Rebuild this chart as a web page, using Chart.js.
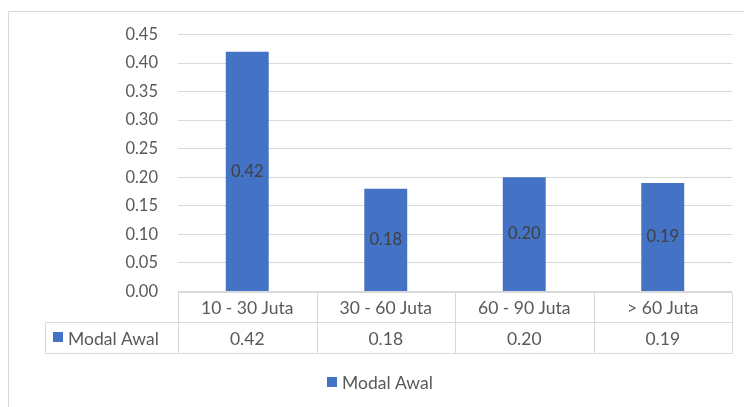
<!DOCTYPE html>
<html>
<head>
<meta charset="utf-8">
<script src="https://cdn.jsdelivr.net/npm/chart.js@4"></script>
<style>
  html, body { margin: 0; padding: 0; background: #fff; }
  #wrap { position: relative; width: 744px; height: 407px; }
</style>
</head>
<body>
<div id="wrap"><canvas id="chart" width="744" height="407"></canvas></div>
<script>
// Share of respondents by starting capital bracket
const categories = ['10 - 30 Juta', '30 - 60 Juta', '60 - 90 Juta', '> 60 Juta'];
const seriesName = 'Modal Awal';
const modalAwal = [0.42, 0.18, 0.20, 0.19];
const yTicks = [0, 0.05, 0.10, 0.15, 0.20, 0.25, 0.30, 0.35, 0.40, 0.45];

const FONT = 'Lato, "Open Sans", sans-serif';
const BAR = '#4472C4';
const GRID = '#d9d9d9';
const LABEL = '#404040';
const TEXT = '#595959';

// Value labels in the middle of each bar
const barLabels = {
  id: 'barLabels',
  afterDatasetsDraw(chart) {
    const ctx = chart.ctx;
    const meta = chart.getDatasetMeta(0);
    ctx.save();
    ctx.font = '16.5px ' + FONT;
    ctx.fillStyle = LABEL;
    ctx.textAlign = 'center';
    ctx.textBaseline = 'middle';
    meta.data.forEach((bar, i) => {
      const v = chart.data.datasets[0].data[i];
      ctx.fillText(v.toFixed(2), bar.x, (bar.y + bar.base) / 2);
    });
    ctx.restore();
  }
};

// Data table under the plot, legend and frame
const dataTable = {
  id: 'dataTable',
  afterDraw(chart) {
    const ctx = chart.ctx;
    const area = chart.chartArea;
    const xs = chart.scales.x;
    const n = categories.length;
    const colW = (area.right - area.left) / n;
    const top = Math.round(area.bottom) + 0.5;
    const mid = top + 30;
    const bot = mid + 31;
    const keyLeft = 45.5;

    ctx.save();
    ctx.strokeStyle = GRID;
    ctx.lineWidth = 1;
    ctx.beginPath();
    ctx.moveTo(area.left, top); ctx.lineTo(area.right, top);
    ctx.moveTo(keyLeft, mid); ctx.lineTo(area.right, mid);
    ctx.moveTo(keyLeft, bot); ctx.lineTo(area.right, bot);
    ctx.moveTo(keyLeft, mid); ctx.lineTo(keyLeft, bot);
    for (let i = 0; i <= n; i++) {
      const x = Math.round(area.left + i * colW) + 0.5;
      ctx.moveTo(x, top); ctx.lineTo(x, bot);
    }
    // outer frame
    ctx.moveTo(8.5, chart.height); ctx.lineTo(8.5, 11.5); ctx.lineTo(chart.width, 11.5);
    ctx.stroke();

    ctx.font = '17.5px ' + FONT;
    ctx.fillStyle = TEXT;
    ctx.textBaseline = 'middle';
    ctx.textAlign = 'center';
    categories.forEach((c, i) => {
      const cx = xs.getPixelForValue(i);
      ctx.fillText(c, cx, (top + mid) / 2 + 1);
      ctx.fillText(modalAwal[i].toFixed(2), cx, (mid + bot) / 2 + 1);
    });

    // row key
    ctx.textAlign = 'left';
    ctx.fillStyle = BAR;
    ctx.fillRect(53, 332, 10, 10);
    ctx.fillStyle = TEXT;
    ctx.fillText(seriesName, 68, (mid + bot) / 2 + 1);

    // legend
    ctx.fillStyle = BAR;
    ctx.fillRect(327, 377, 10, 10);
    ctx.fillStyle = TEXT;
    ctx.fillText(seriesName, 342, 383);
    ctx.restore();
  }
};

new Chart(document.getElementById('chart'), {
  type: 'bar',
  data: {
    labels: categories,
    datasets: [{
      label: seriesName,
      data: modalAwal,
      backgroundColor: BAR,
      borderWidth: 0,
      categoryPercentage: 1,
      barPercentage: 0.31
    }]
  },
  options: {
    responsive: false,
    animation: false,
    layout: { padding: { top: 34.5, right: 12, bottom: 115.5, left: 0 } },
    plugins: {
      legend: { display: false },
      tooltip: { enabled: false }
    },
    scales: {
      x: {
        display: false,
        grid: { display: false }
      },
      y: {
        min: 0,
        max: 0.45,
        afterFit(axis) { axis.width = 178; },
        afterBuildTicks(axis) { axis.ticks = yTicks.map(v => ({ value: v })); },
        border: { display: false },
        grid: { color: GRID, drawTicks: false },
        ticks: {
          color: TEXT,
          padding: 20,
          font: { family: FONT, size: 16.5 },
          callback: v => Number(v).toFixed(2)
        }
      }
    }
  },
  plugins: [barLabels, dataTable]
});
</script>
</body>
</html>
